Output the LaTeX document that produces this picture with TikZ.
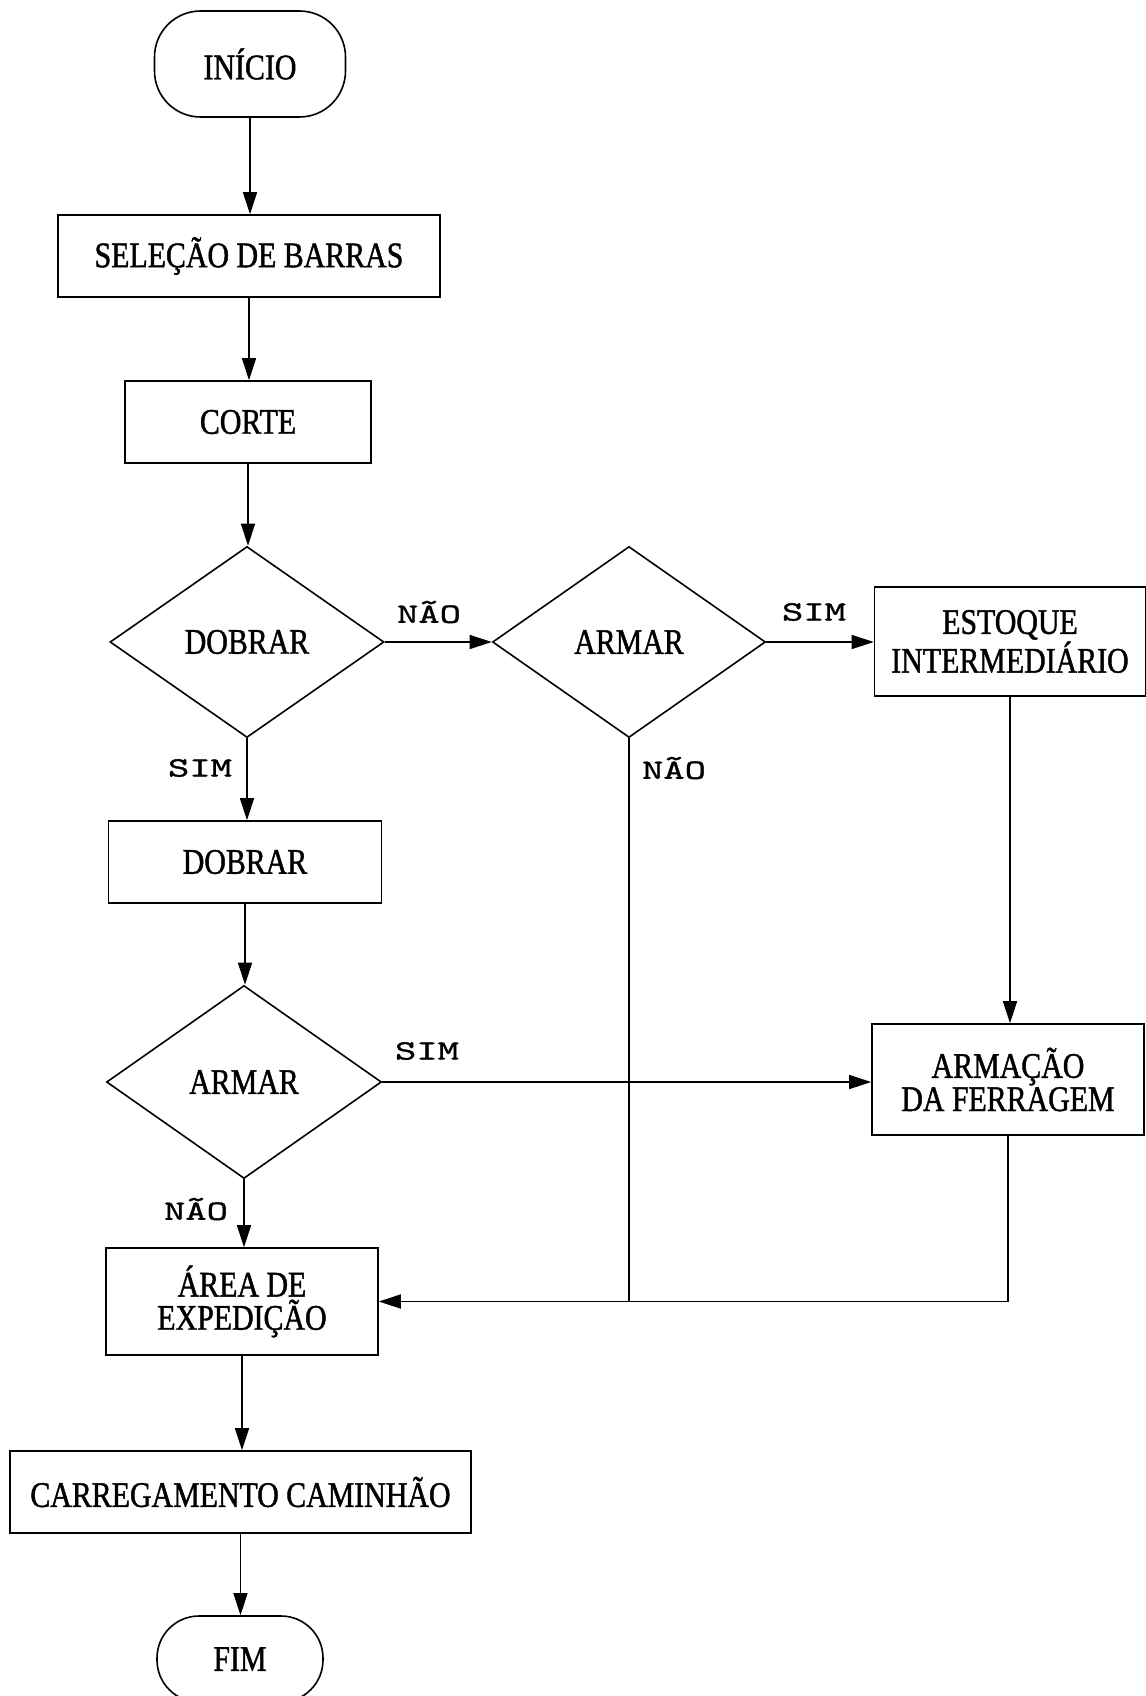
\documentclass[tikz,border=0pt]{standalone}
\usepackage{fontspec}
\setmainfont{Liberation Serif}[FakeStretch=0.83,FakeBold=1.2]
\newfontfamily\lblfont{lmmono10-regular.otf}[FakeStretch=1.45,FakeBold=1.2]
\usetikzlibrary{shapes.geometric,arrows.meta}
\begin{document}
\begin{tikzpicture}[x=0.5pt,y=-0.5pt,
  every node/.style={font=\fontsize{18}{16.6}\selectfont, align=center, inner sep=0pt},
  proc/.style={draw, rectangle, line width=0.8pt},
  dec/.style={draw, diamond, line width=0.8pt},
  term/.style={draw, rectangle, line width=0.8pt},
  lbl/.style={font=\lblfont\fontsize{14}{15}\selectfont},
  arr/.style={line width=0.8pt, -{Triangle[length=11pt,width=7pt]}},
  ln/.style={line width=0.8pt}]
\fill[white] (0,0) rectangle (1145,1696);
\useasboundingbox (0,0) rectangle (1145,1696);

\node[term, rounded corners=23pt, minimum width=95.5pt, minimum height=53pt] (inicio) at (250,64) {INÍCIO};
\node[proc, minimum width=191pt, minimum height=41pt] (selecao) at (249,256) {SELEÇÃO DE BARRAS};
\node[proc, minimum width=123pt, minimum height=41pt] (corte) at (248,422) {CORTE};
\node[dec, minimum width=137pt, minimum height=95.5pt] (dob1) at (247,642) {DOBRAR};
\node[dec, minimum width=136.5pt, minimum height=95.5pt] (arm1) at (629,642) {ARMAR};
\node[proc, minimum width=135.5pt, minimum height=54.5pt] (estoque) at (1010,641.5) {ESTOQUE\\INTERMEDIÁRIO};
\node[proc, minimum width=136.5pt, minimum height=41pt] (dob2) at (245,862) {DOBRAR};
\node[dec, minimum width=137.5pt, minimum height=96.5pt] (arm2) at (244,1082) {ARMAR};
\node[proc, minimum width=136pt, minimum height=55.5pt] (armacao) at (1008,1079.5) {ARMAÇÃO\\DA FERRAGEM};
\node[proc, minimum width=136pt, minimum height=53.5pt] (area) at (242,1301.5) {ÁREA DE\\EXPEDIÇÃO};
\node[proc, minimum width=230.5pt, minimum height=41pt] (carreg) at (240.5,1492) {CARREGAMENTO CAMINHÃO};
\node[term, rounded corners=21pt, minimum width=83pt, minimum height=43pt] (fim) at (240,1659) {FIM};

\node[lbl] (l1) at (429,612) {NÃO};
\node[lbl] (l2) at (814,612) {SIM};
\node[lbl] (l3) at (200,768) {SIM};
\node[lbl] (l4) at (674,768) {NÃO};
\node[lbl] (l5) at (427,1051) {SIM};
\node[lbl] (l6) at (196,1209) {NÃO};

\draw[arr] (inicio.south) -- (inicio.south |- selecao.north);
\draw[arr] (selecao.south) -- (selecao.south |- corte.north);
\draw[arr] (corte.south) -- (corte.south |- dob1.north);
\draw[arr] (dob1.east) -- (arm1.west);
\draw[arr] (arm1.east) -- (arm1.east -| estoque.west);
\draw[arr] (dob1.south) -- (dob1.south |- dob2.north);
\draw[arr] (dob2.south) -- (dob2.south |- arm2.north);
\draw[arr] (arm2.east) -- (arm2.east -| armacao.west);
\draw[arr] (arm2.south) -- (arm2.south |- area.north);
\draw[arr] (estoque.south) -- (estoque.south |- armacao.north);
\draw[arr] (armacao.south) |- (area.east);
\draw[ln] (arm1.south) -- (arm1.south |- area.east);
\draw[arr] (area.south) -- (area.south |- carreg.north);
\draw[arr] (carreg.south) -- (carreg.south |- fim.north);
\end{tikzpicture}
\end{document}
